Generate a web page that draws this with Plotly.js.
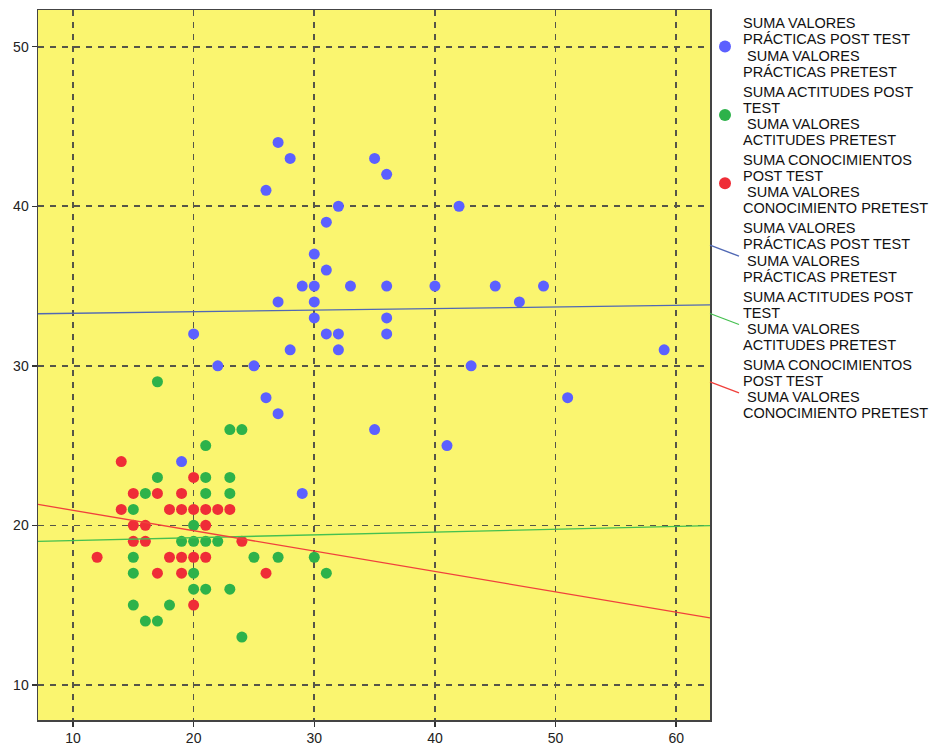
<!DOCTYPE html>
<html>
<head>
<meta charset="utf-8">
<script src="https://cdn.plot.ly/plotly-3.0.1.min.js"></script>
<style>html,body{margin:0;padding:0;background:#fff;}#chart{width:930px;height:749px;}</style>
</head>
<body>
<div id="chart"></div>
<script>
// Series names (legend text)
const seriesNames = [
  "SUMA VALORES<br>PRÁCTICAS POST TEST<br> SUMA VALORES<br>PRÁCTICAS PRETEST",
  "SUMA ACTITUDES POST<br>TEST<br> SUMA VALORES<br>ACTITUDES PRETEST",
  "SUMA CONOCIMIENTOS<br>POST TEST<br> SUMA VALORES<br>CONOCIMIENTO PRETEST"
];

// Prácticas (blue)
const practicasX = [27,28,26,35,36,32,42,31,30,31,27,29,30,33,36,40,45,49,47,30,30,36,31,32,36,20,28,32,59,22,25,43,26,51,27,35,41,19,29];
const practicasY = [44,43,41,43,42,40,40,39,37,36,34,35,35,35,35,35,35,35,34,34,33,33,32,32,32,32,31,31,31,30,30,30,28,28,27,26,25,24,22];

// Actitudes (green)
const actitudesX = [17,23,24,21,17,21,23,16,21,23,15,20,19,20,21,22,15,25,27,30,15,20,31,20,21,23,15,18,16,17,24];
const actitudesY = [29,26,26,25,23,23,23,22,22,22,21,20,19,19,19,19,18,18,18,18,17,17,17,16,16,16,15,15,14,14,13];

// Conocimientos (red)
const conocimientosX = [14,20,15,17,19,14,18,19,20,21,22,23,15,16,21,15,16,24,12,18,19,20,21,17,19,26,20];
const conocimientosY = [24,23,22,22,22,21,21,21,21,21,21,21,20,20,20,19,19,19,18,18,18,18,18,17,17,17,15];

// Linear fit lines (intercept, slope)
const fitIntercept = [33.19, 18.875, 22.22];
const fitSlope = [0.010, 0.0176, -0.1278];

const xRange = [7.1, 62.8];
const yRange = [7.8, 52.3];
const xTicks = [10,20,30,40,50,60];
const yTicks = [10,20,30,40,50];

const markerColors = ["#5C60FF", "#2DB24A", "#EF2D37"];
const lineColors = ["#5068B4", "#45C050", "#F0403C"];

const pointsX = [practicasX, actitudesX, conocimientosX];
const pointsY = [practicasY, actitudesY, conocimientosY];

// geometry
const W = 930, H = 749;
const M = {l: 38, r: 220, t: 10, b: 29};
const PW = W - M.l - M.r, PH = H - M.t - M.b;
const px2x = p => (p - M.l) / PW;
const px2y = p => (H - M.b - p) / PH;

const traces = [];
for (let i = 0; i < 3; i++) {
  traces.push({
    type: "scatter", mode: "markers",
    x: pointsX[i], y: pointsY[i],
    name: seriesNames[i], showlegend: false,
    marker: {color: markerColors[i], size: 11, line: {width: 0}},
    hoverinfo: "x+y"
  });
}
for (let i = 0; i < 3; i++) {
  traces.push({
    type: "scatter", mode: "lines",
    x: xRange,
    y: xRange.map(v => fitIntercept[i] + fitSlope[i] * v),
    name: seriesNames[i], showlegend: false,
    line: {color: lineColors[i], width: 1.3},
    hoverinfo: "skip"
  });
}

// Custom legend (SPSS style: tight line spacing)
const annotations = [];
const shapes = [];
const legFont = {family: "Liberation Sans, Arial, sans-serif", size: 14.5, color: "#111"};
const lineStep = 16.2, itemStep = 68.3, legTop = 23.3, textX = 741;
for (let k = 0; k < 6; k++) {
  const s = k % 3;
  const lines = seriesNames[s].split("<br>");
  const top = legTop + k * itemStep;
  lines.forEach((ln, j) => {
    annotations.push({
      xref: "paper", yref: "paper",
      x: px2x(textX), y: px2y(top + j * lineStep),
      xanchor: "left", yanchor: "middle",
      text: ln.replace(/^ /, "\u00A0"), showarrow: false,
      font: legFont
    });
  });
  const midY = top + 1.5 * lineStep;
  if (k < 3) {
    shapes.push({
      type: "circle", xref: "paper", yref: "paper",
      xsizemode: "pixel", ysizemode: "pixel",
      xanchor: px2x(725), yanchor: px2y(midY - 1),
      x0: -6, x1: 6, y0: -6, y1: 6,
      fillcolor: markerColors[s], line: {width: 0}
    });
  } else {
    shapes.push({
      type: "line", xref: "paper", yref: "paper",
      x0: px2x(710), y0: px2y(top + 17), x1: px2x(739), y1: px2y(top + 28),
      line: {color: lineColors[s], width: 1.3}
    });
  }
}

const axisCommon = {
  showline: true, mirror: true, linecolor: "#444", linewidth: 1.5,
  ticks: "outside", ticklen: 5, tickwidth: 1.5, tickcolor: "#333",
  showgrid: true, gridcolor: "#555548", gridwidth: 1.6, griddash: "6px,6px",
  zeroline: false,
  tickfont: {family: "Liberation Sans, Arial, sans-serif", size: 14, color: "#222"}
};

const layout = {
  width: W, height: H,
  margin: {l: M.l, r: M.r, t: M.t, b: M.b, pad: 0},
  paper_bgcolor: "#ffffff",
  plot_bgcolor: "#FAF56F",
  showlegend: false,
  annotations: annotations,
  shapes: shapes,
  xaxis: Object.assign({}, axisCommon, {range: xRange, tickvals: xTicks, ticktext: xTicks.map(String)}),
  yaxis: Object.assign({}, axisCommon, {range: yRange, tickvals: yTicks, ticktext: yTicks.map(String)})
};

Plotly.newPlot("chart", traces, layout, {displayModeBar: false, staticPlot: true});
</script>
</body>
</html>
